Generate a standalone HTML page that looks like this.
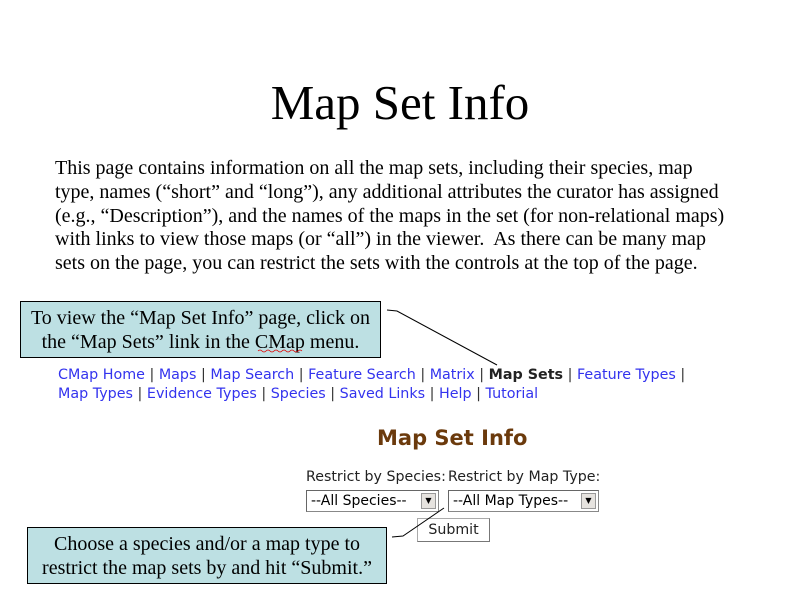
<!DOCTYPE html>
<html><head><style>
body{margin:0;width:800px;height:600px;background:#fff;position:relative;overflow:hidden;font-family:"Liberation Serif",serif}
.a{position:absolute;white-space:nowrap}
.t{left:0;width:800px;text-align:center;top:74px;font-size:49px}
.p{left:55px;top:157px;font-size:20px;line-height:23.8px}
.box{position:absolute;background:#bde0e3;border:1.5px solid #000;font-size:20px;text-align:center;line-height:24px;box-sizing:border-box}
.m{font-family:"DejaVu Sans",sans-serif;font-size:14.3px;color:#333;left:58px}
.m b{color:#222}
.m span{color:#3333ee}
.f{font-family:"DejaVu Sans",sans-serif;font-size:14.2px;color:#222}
.sel{position:absolute;height:22px;border:1px solid #888;box-sizing:border-box;font-family:"DejaVu Sans",sans-serif;font-size:14px;padding-left:4px;line-height:20px;background:#fff;border-top-color:#666;border-left-color:#666}
.ar{position:absolute;right:2px;top:2px;width:15px;height:16px;background:#e6e3df;border:1px solid #999;box-sizing:border-box;font-size:8px;text-align:center;line-height:14px}
</style></head><body>
<div class="a t">Map Set Info</div>
<div class="a p">This page contains information on all the map sets, including their species, map<br>type, names (“short” and “long”), any additional attributes the curator has assigned<br>(e.g., “Description”), and the names of the maps in the set (for non-relational maps)<br>with links to view those maps (or “all”) in the viewer.&nbsp; As there can be many map<br>sets on the page, you can restrict the sets with the controls at the top of the page.</div>
<div class="box" style="left:20px;top:301px;width:361px;height:57px;padding-top:4px">To view the “Map Set Info” page, click on<br>the “Map Sets” link in the CMap menu.</div>
<div class="a m" style="top:367px"><span>CMap Home</span> | <span>Maps</span> | <span>Map Search</span> | <span>Feature Search</span> | <span>Matrix</span> | <b>Map Sets</b> | <span>Feature Types</span> |</div>
<div class="a m" style="top:386px"><span>Map Types</span> | <span>Evidence Types</span> | <span>Species</span> | <span>Saved Links</span> | <span>Help</span> | <span>Tutorial</span></div>
<div class="a" style="left:377px;top:426px;font-family:'DejaVu Sans',sans-serif;font-weight:bold;font-size:21px;color:#6b3a0c">Map Set Info</div>
<div class="a f" style="left:306px;top:469px">Restrict by Species:</div>
<div class="a f" style="left:448px;top:469px">Restrict by Map Type:</div>
<div class="sel" style="left:306px;top:490px;width:133px">--All Species--<div class="ar">▼</div></div>
<div class="sel" style="left:448px;top:490px;width:151px">--All Map Types--<div class="ar">▼</div></div>
<div class="a f" style="left:417px;top:518px;width:73px;height:24px;border:1px solid #aaa;border-right-color:#777;border-bottom-color:#777;box-sizing:border-box;text-align:center;line-height:22px">Submit</div>
<div class="box" style="left:27px;top:527px;width:360px;height:57px;padding-top:4px">Choose a species and/or a map type to<br>restrict the map sets by and hit “Submit.”</div>
<svg class="a" style="left:0;top:0" width="800" height="600"><polyline points="387,310 397,311 497,365" fill="none" stroke="#000" stroke-width="1"/><polyline points="392,537 403,536 444,508" fill="none" stroke="#000" stroke-width="1"/>
<path d="M258,351 q2,-2 4,0 t4,0 t4,0 t4,0 t4,0 t4,0 t4,0 t4,0 t4,0 t4,0 t4,0" fill="none" stroke="#d00" stroke-width="0.8"/></svg>
</body></html>
